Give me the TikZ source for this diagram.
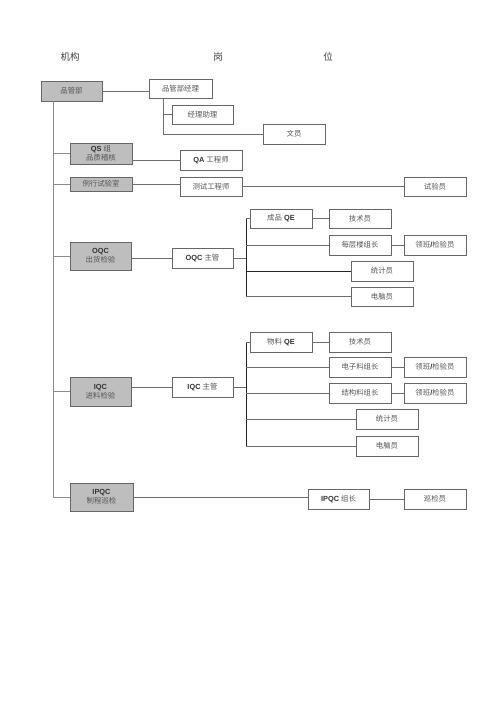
\documentclass[tikz,border=0pt]{standalone}
\usepackage{fontspec}
\setmainfont{Liberation Sans}
\newfontfamily\cjk{Noto Sans CJK SC}
\usetikzlibrary{shadows}
\definecolor{boxgray}{HTML}{BEBEBE}
\definecolor{txtgray}{HTML}{555555}
\definecolor{linegray}{HTML}{6E6E6E}
\newcommand\lt[1]{{\bfseries\color{black!80}#1}}
\newcommand\zh[1]{{\cjk #1}}
\tikzset{
  box/.style={draw=black!60, line width=0.5pt, fill=white, inner sep=0pt,
    minimum height=19pt, minimum width=62pt, font=\fontsize{7.4}{8.8}\selectfont,
    text=txtgray, align=center,
    drop shadow={shadow xshift=0.9pt, shadow yshift=-0.9pt, fill=black!75, opacity=1}},
  dept/.style={box, fill=boxgray},
  link/.style={draw=linegray, line width=0.5pt},
  bus/.style={draw=black!85, line width=0.9pt},
  trunk/.style={draw=black!45, line width=1pt},
  head/.style={font=\fontsize{9.5}{12}\selectfont, text=black!75, inner sep=0pt},
}
\begin{document}
\begin{tikzpicture}[x=1pt,y=-1pt]
\useasboundingbox[fill=white] (0,0) rectangle (500,707);
% headers
\node[head] (h1) at (70,57) {\zh{机构}};
\node[head] (h2) at (218,57) {\zh{岗}};
\node[head] (h3) at (328,57) {\zh{位}};
% departments
\node[dept, minimum width=61pt, minimum height=20pt] (pgb) at (71.5,91) {\zh{品管部}};
\node[dept, minimum height=21pt] (qs) at (101,153.5) {\lt{QS} \zh{组}\\\zh{品质稽核}};
\node[dept, minimum height=14pt] (lx) at (101,184) {\zh{例行试验室}};
\node[dept, minimum width=61pt, minimum height=28pt] (oqc) at (100.5,256) {\lt{OQC}\\\zh{出货检验}};
\node[dept, minimum width=61pt, minimum height=29pt] (iqc) at (100.5,391.5) {\lt{IQC}\\\zh{进料检验}};
\node[dept, minimum width=63pt, minimum height=28pt] (ipqc) at (101.5,497) {\lt{IPQC}\\\zh{制程巡检}};
% management
\node[box, minimum width=63pt] (mgr) at (180.5,88.5) {\zh{品管部经理}};
\node[box, minimum width=61pt] (asst) at (202.5,114.5) {\zh{经理助理}};
\node[box, minimum height=20pt] (clerk) at (294,134) {\zh{文员}};
% QS / lab
\node[box, minimum height=20pt] (qa) at (211,160) {\lt{QA} \zh{工程师}};
\node[box] (test) at (211,186.5) {\zh{测试工程师}};
\node[box] (tester) at (435,186.5) {\zh{试验员}};
% OQC
\node[box, minimum width=61pt, minimum height=20pt] (oqcm) at (202.5,258) {\lt{OQC} \zh{主管}};
\node[box] (cpqe) at (281,218.5) {\zh{成品} \lt{QE}};
\node[box] (tech1) at (360,218.5) {\zh{技术员}};
\node[box, minimum height=20pt] (floor) at (360,245) {\zh{每层楼组长}};
\node[box, minimum height=20pt] (lead1) at (435,245) {\zh{领班}\lt{/}\zh{检验员}};
\node[box, minimum height=20pt] (stat1) at (382,271) {\zh{统计员}};
\node[box] (pc1) at (382,296.5) {\zh{电脑员}};
% IQC
\node[box, minimum width=61pt, minimum height=20pt] (iqcm) at (202.5,387) {\lt{IQC} \zh{主管}};
\node[box, minimum height=20pt] (wlqe) at (281,342) {\zh{物料} \lt{QE}};
\node[box, minimum height=20pt] (tech2) at (360,342) {\zh{技术员}};
\node[box, minimum height=20pt] (elec) at (360,367) {\zh{电子料组长}};
\node[box, minimum height=20pt] (lead2) at (435,367) {\zh{领班}\lt{/}\zh{检验员}};
\node[box, minimum height=20pt] (struct) at (360,393) {\zh{结构料组长}};
\node[box, minimum height=20pt] (lead3) at (435,393) {\zh{领班}\lt{/}\zh{检验员}};
\node[box, minimum height=20pt] (stat2) at (387,419) {\zh{统计员}};
\node[box, minimum height=20pt] (pc2) at (387,446) {\zh{电脑员}};
% IPQC
\node[box, minimum width=61pt, minimum height=20pt] (ipqcl) at (338.5,499) {\lt{IPQC} \zh{组长}};
\node[box, minimum height=20pt] (patrol) at (435,499) {\zh{巡检员}};
% coordinates
\coordinate (t0) at (53,101);
\coordinate (m0) at (163,98);
\coordinate (ob) at (246,218.5);
\coordinate (ib) at (246,342);
% connectors
\draw[trunk] (t0) |- (ipqc.west);
\draw[trunk] (t0 |- qs.west) -- (qs.west);
\draw[trunk] (t0 |- lx.west) -- (lx.west);
\draw[trunk] (t0 |- oqc.west) -- (oqc.west);
\draw[trunk] (t0 |- iqc.west) -- (iqc.west);
\draw[link] (pgb.east) -- (pgb.east -| mgr.west);
\draw[link] (m0) |- (clerk.west);
\draw[link] (m0 |- asst.west) -- (asst.west);
\draw[link] (qs.east |- qa.west) -- (qa.west);
\draw[link] (lx.east) -- (lx.east -| test.west);
\draw[link] (test.east) -- (tester.west);
% OQC
\draw[link] (oqc.east |- oqcm.west) -- (oqcm.west);
\draw[link] (oqcm.east) -- (oqcm.east -| ob);
\draw[bus] (ob) -- (ob |- pc1.west);
\draw[link] (ob) -- (cpqe.west);
\draw[link] (cpqe.east) -- (tech1.west);
\draw[link] (ob |- floor.west) -- (floor.west);
\draw[link] (floor.east) -- (lead1.west);
\draw[bus] (ob |- stat1.west) -- (stat1.west);
\draw[link] (ob |- pc1.west) -- (pc1.west);
% IQC
\draw[link] (iqc.east |- iqcm.west) -- (iqcm.west);
\draw[link] (iqcm.east) -- (iqcm.east -| ib);
\draw[bus] (ib) -- (ib |- pc2.west);
\draw[link] (ib) -- (wlqe.west);
\draw[link] (wlqe.east) -- (tech2.west);
\draw[link] (ib |- elec.west) -- (elec.west);
\draw[link] (elec.east) -- (lead2.west);
\draw[link] (ib |- struct.west) -- (struct.west);
\draw[link] (struct.east) -- (lead3.west);
\draw[link] (ib |- stat2.west) -- (stat2.west);
\draw[link] (ib |- pc2.west) -- (pc2.west);
% IPQC
\draw[link] (ipqc.east) -- (ipqc.east -| ipqcl.west);
\draw[link] (ipqcl.east) -- (patrol.west);
\end{tikzpicture}
\end{document}
